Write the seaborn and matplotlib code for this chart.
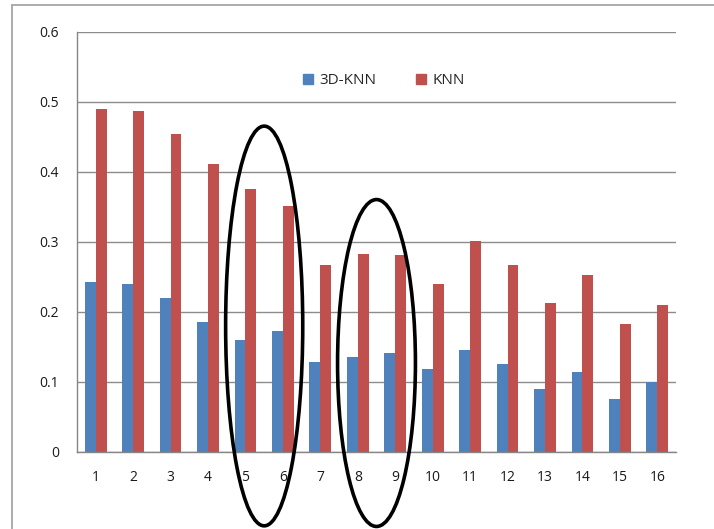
import matplotlib
matplotlib.use("Agg")
import matplotlib.pyplot as plt
import seaborn as sns
import pandas as pd
import numpy as np
from matplotlib.patches import Ellipse
from matplotlib.lines import Line2D

categories = [str(i) for i in range(1, 17)]
knn3d = [0.243, 0.240, 0.219, 0.186, 0.159, 0.172, 0.128, 0.135,
         0.141, 0.118, 0.145, 0.126, 0.090, 0.114, 0.076, 0.099]
knn = [0.490, 0.487, 0.454, 0.411, 0.375, 0.351, 0.267, 0.282,
       0.281, 0.239, 0.301, 0.267, 0.212, 0.253, 0.183, 0.209]
series_names = ["3D-KNN", "KNN"]
colors = ["#4F81BD", "#C0504D"]
yticks = [0, 0.1, 0.2, 0.3, 0.4, 0.5, 0.6]
ytick_labels = ["0", "0.1", "0.2", "0.3", "0.4", "0.5", "0.6"]

df = pd.DataFrame({
    "cat": categories * 2,
    "value": knn3d + knn,
    "method": [series_names[0]] * 16 + [series_names[1]] * 16,
})

sns.set_style("white")
plt.rcParams['font.family'] = ['Open Sans', 'DejaVu Sans']

W, H = 714, 529
fig = plt.figure(figsize=(W / 100, H / 100), dpi=100)
ax = fig.add_axes([77 / W, 1 - 451.7 / H, (676 - 77) / W, (451.7 - 31.7) / H])

sns.barplot(data=df, x="cat", y="value", hue="method", order=categories,
            hue_order=series_names, palette=colors, width=0.58,
            saturation=1, ax=ax, legend=True, edgecolor="none")

ax.set_xlim(-0.5, 15.5)
ax.set_ylim(0, 0.6)
ax.set_yticks(yticks)
ax.set_yticklabels(ytick_labels)
ax.set_xlabel("")
ax.set_ylabel("")
ax.yaxis.grid(True, color="#8c8c8c", linewidth=1.0)
ax.set_axisbelow(True)
for s in ["top", "right"]:
    ax.spines[s].set_visible(False)
for s in ["left", "bottom"]:
    ax.spines[s].set_color("#868686")
    ax.spines[s].set_linewidth(1.0)

ax.set_xticks(np.arange(-0.5, 16, 1.0), minor=True)
ax.tick_params(axis="x", which="major", length=0, pad=13, labelsize=10, labelcolor="#1a1a1a")
ax.tick_params(axis="x", which="minor", length=5, width=1, color="#868686", direction="out")
ax.tick_params(axis="y", which="major", length=5, width=1, color="#868686",
               direction="out", pad=8, labelsize=10, labelcolor="#1a1a1a")

# legend
handles = [plt.Rectangle((0, 0), 1, 1, color=c) for c in colors]
ax.legend(handles, series_names, loc="center", ncol=2, frameon=False,
          bbox_to_anchor=((384 - 77) / 599, (451.7 - 81) / 420),
          fontsize=11, handlelength=0.65, handleheight=0.65,
          handletextpad=0.45, columnspacing=2.6)

# highlight ellipses (annotation)
ell_centers = [(4.5, 0.1796), (7.5, 0.1267)]
ell_sizes = [(2.06, 0.571), (2.08, 0.467)]
for (cx, cy), (w, h) in zip(ell_centers, ell_sizes):
    e = Ellipse((cx, cy), w, h, fill=False, edgecolor="black", linewidth=2.6,
                clip_on=False, zorder=10)
    ax.add_patch(e)

# outer chart frame
fig.add_artist(Line2D([12 / W, 12 / W], [0, 1 - 4.7 / H], transform=fig.transFigure,
                      color="#a6a6a6", linewidth=1.3))
fig.add_artist(Line2D([12 / W, 1], [1 - 4.7 / H, 1 - 4.7 / H], transform=fig.transFigure,
                      color="#a6a6a6", linewidth=1.3))

fig.savefig("out.png", dpi=100)
